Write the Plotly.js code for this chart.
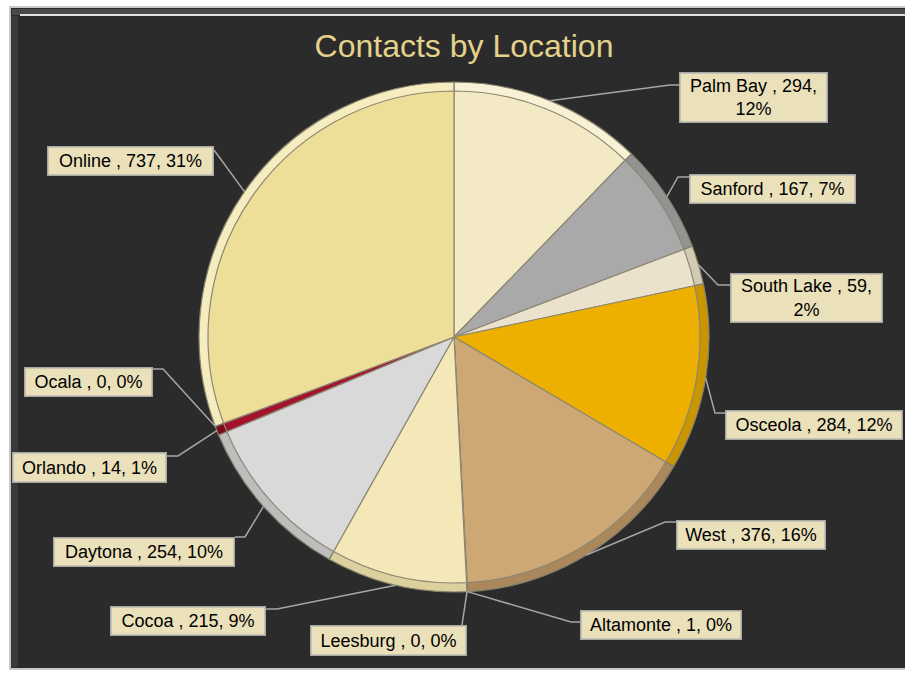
<!DOCTYPE html>
<html>
<head>
<meta charset="utf-8">
<script src="https://cdn.plot.ly/plotly-3.0.1.min.js"></script>
<style>html,body{margin:0;padding:0;background:#fff;}#chart{width:905px;height:673px;}</style>
</head>
<body>
<div id="chart"></div>
<script>
// ---- data ----
const locations = ["Palm Bay", "Sanford", "South Lake", "Osceola", "West", "Altamonte", "Leesburg", "Cocoa", "Daytona", "Orlando", "Ocala", "Online"];
const contacts  = [294, 167, 59, 284, 376, 1, 0, 215, 254, 14, 0, 737];
const percents  = [12, 7, 2, 12, 16, 0, 0, 9, 10, 1, 0, 31];

// ---- styling ----
const sliceColors = ["#F3E9C4", "#A9A9A9", "#EAE2CC", "#EEB000", "#CDA874", "#C9B48A", "#EFE3B2", "#F4E8B8", "#D9D9D9", "#A3132C", "#C00000", "#EDDF98"];
const rimColors   = ["#F8F1D6", "#939393", "#D2CAB2", "#C99600", "#AA885C", "#A8946C", "#D8CC9C", "#DCD09E", "#BDBDBD", "#7A0A1E", "#900000", "#F5ECC0"];
const W = 905, H = 673;
const CX = 454, CY = 337, R = 255;
// label box layout (pixels): left, top, width, height, elbow, entry, wrap
const boxes = [
  {l:679, t:72,  w:149, h:51, el:[670,85],  en:[679,85],  wrap:true},
  {l:689, t:174, w:167, h:30, el:[678,177], en:[689,177], wrap:false},
  {l:730, t:273, w:153, h:50, el:[718,285], en:[730,285], wrap:true},
  {l:725, t:410, w:178, h:30, el:[715,413], en:[725,413], wrap:false},
  {l:676, t:520, w:150, h:30, el:[665,522], en:[676,522], wrap:false},
  {l:580, t:610, w:162, h:30, el:[571,622], en:[580,622], wrap:false},
  {l:310, t:625, w:157, h:31, el:[462,625], en:[462,625], wrap:false},
  {l:110, t:606, w:156, h:30, el:[277,609], en:[266,609], wrap:false},
  {l:53,  t:537, w:182, h:30, el:[245,537], en:[235,537], wrap:false},
  {l:12,  t:452, w:155, h:31, el:[178,456], en:[167,456], wrap:false},
  {l:24,  t:367, w:129, h:30, el:[163,369], en:[153,369], wrap:false},
  {l:47,  t:146, w:167, h:30, el:[214,150], en:[214,150], wrap:false}
];

const px = x => x / W;
const py = y => 1 - y / H;
const dom = r => ({x:[px(CX - r), px(CX + r)], y:[py(CY + r), py(CY - r)]});

const total = contacts.reduce((a, b) => a + b, 0);

const pieBase = {
  type: "pie", labels: locations, values: contacts, sort: false,
  direction: "clockwise", rotation: 0, textinfo: "none", hoverinfo: "label+value+percent",
  showlegend: false
};
const traces = [
  Object.assign({}, pieBase, {domain: dom(R), marker: {colors: rimColors, line: {color: "#85806c", width: 1.2}}}),
  Object.assign({}, pieBase, {domain: dom(R - 9), marker: {colors: sliceColors, line: {color: "#8d8773", width: 1.2}}})
];

// frame, leader lines & label boxes
const shapes = [
  {type:"rect", xref:"paper", yref:"paper", x0:px(10), x1:px(906), y0:py(669), y1:py(7), fillcolor:"#2B2B2B", line:{color:"#C8C8C8", width:2}, layer:"below"},
  {type:"rect", xref:"paper", yref:"paper", x0:px(12), x1:px(905), y0:py(15), y1:py(9), fillcolor:"#4A4A4A", line:{width:0}, layer:"below"},
  {type:"line", xref:"paper", yref:"paper", x0:px(20), x1:px(905), y0:py(15), y1:py(15), line:{color:"#E0E0E0", width:2}, layer:"below"},
  {type:"rect", xref:"paper", yref:"paper", x0:px(11), x1:px(18), y0:py(667), y1:py(16), fillcolor:"#3A3A3A", line:{width:0}, layer:"below"}
];
const annotations = [];
let cum = 0;
contacts.forEach((v, i) => {
  const mid = (cum + v / 2) / total * 2 * Math.PI;
  cum += v;
  const ax = CX + R * Math.sin(mid), ay = CY - R * Math.cos(mid);
  const b = boxes[i];
  shapes.push({type:"path", xref:"paper", yref:"paper",
    path:`M ${px(ax)},${py(ay)} L ${px(b.el[0])},${py(b.el[1])} L ${px(b.en[0])},${py(b.en[1])}`,
    line:{color:"#A6A6A6", width:1.5}, layer:"above"});
  const txt = b.wrap ? `${locations[i]} , ${v},<br>${percents[i]}%` : `${locations[i]} , ${v}, ${percents[i]}%`;
  annotations.push({xref:"paper", yref:"paper", x:px(b.l), y:py(b.t), xanchor:"left", yanchor:"top",
    text:txt, showarrow:false, width:b.w - 3, height:b.h - 3, align:"center", valign:"middle",
    bgcolor:"#EAE0BA", bordercolor:"#A8A8A8", borderwidth:1.5, borderpad:0,
    font:{family:"Liberation Sans, Arial, sans-serif", size:18, color:"#000"}});
});

const layout = {
  width: W, height: H,
  margin: {l:0, r:0, t:0, b:0},
  paper_bgcolor: "#FFFFFF",
  title: {text: "Contacts by Location", x: 464 / W, xanchor: "center", y: py(46), yanchor: "middle",
          font: {family: "Liberation Sans, Arial, sans-serif", size: 32, color: "#E3D18C"}},
  shapes: shapes,
  annotations: annotations
};
Plotly.newPlot("chart", traces, layout, {displayModeBar: false, staticPlot: true});
</script>
</body>
</html>
